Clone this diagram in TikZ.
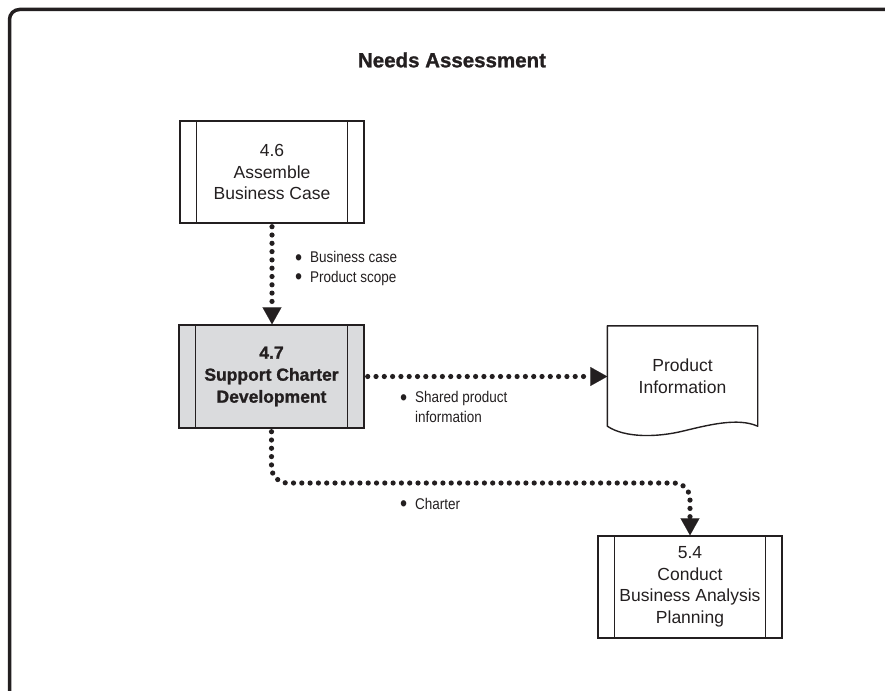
\documentclass[tikz,border=0pt]{standalone}
\usepackage{fontspec}
\setmainfont{Liberation Sans}[BoldFeatures={FakeBold=1.2}]
\newfontfamily\lblfont[FakeStretch=0.87]{Liberation Sans}
\usetikzlibrary{arrows.meta}
\definecolor{procgray}{RGB}{218,219,221}
\definecolor{ink}{RGB}{35,31,32}
\newcommand{\bulitem}{\llap{\raisebox{-2.4pt}{\scalebox{1.5}{\textbullet}}\hspace{8pt}}}
\begin{document}
\begin{tikzpicture}[x=1pt,y=-1pt,
  proc/.style={draw=ink, line width=1.4pt, minimum width=184pt, minimum height=102pt,
    inner sep=0pt, align=center, font=\fontsize{17.5}{21.5}\selectfont, text=ink},
  flow/.style={ink, line width=5.2pt, line cap=round, dash pattern=on 0pt off 8.3pt,
    -{Triangle[length=17pt,width=19pt,line width=0.1pt]}},
  lbl/.style={align=left, inner sep=0pt, font=\lblfont\fontsize{15.5}{19.5}\selectfont, text=ink},
  docbox/.style={minimum width=150pt, minimum height=100pt, inner sep=0pt, align=center,
    font=\fontsize{17.5}{21.5}\selectfont, text=ink}]
\useasboundingbox (0,0) rectangle (885,690);
\clip (0,0) rectangle (885,690);
% outer frame
\draw[ink, line width=3.5pt, rounded corners=10pt] (9.5,720) -- (9.5,9.5) -- (920,9.5);
% title
\node[font=\fontsize{20.5}{24}\selectfont\bfseries, text=ink] (title) at (452,60) {Needs Assessment};
% processes
\node[proc] (a46) at (272,172) {4.6\\Assemble\\Business Case};
\node[proc, fill=procgray, minimum width=185pt, minimum height=103pt, font=\fontsize{17.5}{22}\selectfont\bfseries] (a47) at (271.5,376.5) {4.7\\Support Charter\\Development};
\node[proc] (a54) at (690,587) {5.4\\Conduct\\Business Analysis\\Planning};
\foreach \n in {a46,a47,a54}{
  \draw[ink, line width=1.4pt] ([xshift=17pt]\n.north west) -- ([xshift=17pt]\n.south west);
  \draw[ink, line width=1.4pt] ([xshift=-17pt]\n.north east) -- ([xshift=-17pt]\n.south east);
}
% document
\node[docbox] (pi) at (682.5,376) {Product\\Information};
\draw[ink, line width=1.4pt, line join=round] (pi.south west) -- (pi.north west) -- (pi.north east) -- (pi.south east)
  .. controls +(-20,-9) and +(25,-6) .. ([yshift=-5pt]pi.south)
  .. controls +(-25,6) and +(18,12) .. (pi.south west) -- cycle;
% connectors
\coordinate (bend) at (450,483);
\draw[flow, shorten <=3pt] (a46.south) -- (a46.south |- a47.north);
\draw[flow, shorten <=3pt] (a47.east) -- (a47.east -| pi.west);
\draw[flow, shorten <=3pt, rounded corners=16pt] (a47.south) |- (bend) -| (a54.north);
% labels
\node[lbl, anchor=north west] (l1) at (310,251.5) {\bulitem Business case\\\bulitem Product scope};
\node[lbl, anchor=north west] (l2) at (415,391.5) {\bulitem Shared product\\information};
\node[lbl, anchor=base west] (l3) at (415,509) {\bulitem Charter};
\end{tikzpicture}
\end{document}
